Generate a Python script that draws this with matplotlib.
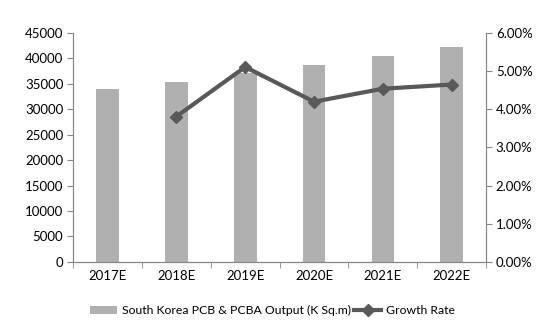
import matplotlib.pyplot as plt
import numpy as np
from matplotlib.ticker import FuncFormatter

years = ["2017E", "2018E", "2019E", "2020E", "2021E", "2022E"]
output = [34000, 35300, 37100, 38650, 40400, 42280]
growth = [np.nan, 3.81, 5.11, 4.20, 4.54, 4.65]

plt.rcParams['font.family'] = ['Lato', 'DejaVu Sans']
plt.rcParams['font.size'] = 9.5

fig = plt.figure(figsize=(5.45, 3.27), dpi=100)
ax = fig.add_axes([0.134, 0.199, 0.758, 0.700])
ax2 = ax.twinx()

x = np.arange(len(years))
bars = ax.bar(x, output, width=0.33, color='#b0b0b0',
              label='South Korea PCB & PCBA Output (K Sq.m)')
line, = ax2.plot(x, growth, color='#595959', linewidth=3, marker='D',
                 markersize=6.5, label='Growth Rate')

ax.set_xlim(-0.5, len(years) - 0.5)
ax.set_ylim(0, 45000)
ax.set_yticks(range(0, 45001, 5000))
ax2.set_ylim(0, 6)
ax2.set_yticks(np.arange(0, 6.01, 1))
ax2.yaxis.set_major_formatter(FuncFormatter(lambda v, p: f'{v:.2f}%'))

ax.set_xticks(x)
ax.set_xticklabels(years)
ax.set_xticks(np.arange(-0.5, len(years), 1), minor=True)
ax.tick_params(axis='x', which='major', length=0, pad=6)
ax.tick_params(axis='x', which='minor', length=4, color='#868686')
ax.tick_params(axis='y', length=4, color='#868686', pad=3)
ax2.tick_params(axis='y', length=4, color='#868686', pad=3)

for a in (ax, ax2):
    a.spines['top'].set_visible(False)
    for s in ('left', 'right', 'bottom'):
        a.spines[s].set_color('#868686')

fig.legend(handles=[bars, line], loc='center', bbox_to_anchor=(0.5, 0.05),
           ncol=2, frameon=False, handlelength=2.2, columnspacing=0.3,
           handletextpad=0.4, fontsize=8.8)

fig.savefig('out.png', dpi=100)
